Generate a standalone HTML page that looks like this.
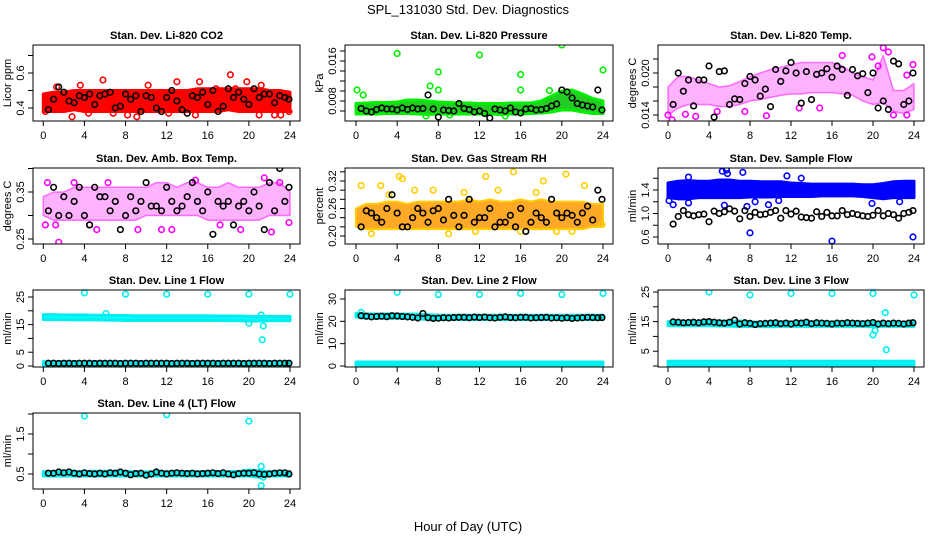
<!DOCTYPE html>
<html><head><meta charset="utf-8"><style>
html,body{margin:0;padding:0;background:#fff;}
svg{display:block;font-family:"Liberation Sans",Arial,sans-serif;}
</style></head>
<body>
<svg id="chart" width="936" height="540" viewBox="0 0 936 540">
<text x="468" y="14" text-anchor="middle" font-size="13">SPL_131030  Std. Dev. Diagnostics</text>
<text x="468" y="531" text-anchor="middle" font-size="13">Hour of Day (UTC)</text>
</svg>
<script>
// ---- data ----
const hoursTicks = [0,4,8,12,16,20,24];
const bandHours = [0,1,2,3,4,5,6,7,8,9,10,11,12,13,14,15,16,17,18,19,20,21,22,23,24];
const blackX = [0.5,1,1.5,2,2.5,3,3.5,4,4.5,5,5.5,6,6.5,7,7.5,8,8.5,9,9.5,10,10.5,11,11.5,12,12.5,13,13.5,14,14.5,15,15.5,16,16.5,17,17.5,18,18.5,19,19.5,20,20.5,21,21.5,22,22.5,23,23.5,23.9];

// Panel 1 CO2
const p1Lo = [0.38,0.38,0.38,0.39,0.38,0.38,0.38,0.38,0.38,0.38,0.38,0.38,0.38,0.38,0.38,0.38,0.38,0.38,0.39,0.38,0.38,0.38,0.38,0.38,0.38];
const p1Hi = [0.48,0.49,0.49,0.50,0.50,0.50,0.50,0.50,0.50,0.50,0.50,0.50,0.50,0.50,0.50,0.51,0.51,0.51,0.51,0.51,0.51,0.51,0.50,0.50,0.49];
const p1OutX = [15.8,18.2,5.8,13,15.2,19.8,10.2,21.2,3.6,2.8,9.1,14.8,1.3,8.2,21,22.5,23.1,23.9,0.2,4.4,18.7,16.8,12.2,6.8];
const p1OutY = [0.80,0.59,0.56,0.55,0.55,0.55,0.53,0.53,0.53,0.35,0.35,0.36,0.52,0.36,0.36,0.36,0.36,0.38,0.38,0.37,0.51,0.51,0.37,0.37];
const p1Black = [0.39,0.45,0.52,0.49,0.44,0.43,0.47,0.46,0.48,0.42,0.47,0.48,0.49,0.40,0.41,0.48,0.45,0.47,0.38,0.47,0.46,0.40,0.38,0.46,0.50,0.44,0.39,0.37,0.47,0.46,0.49,0.42,0.50,0.38,0.41,0.51,0.46,0.49,0.45,0.42,0.51,0.46,0.48,0.48,0.43,0.47,0.46,0.45];

// Panel 2 Pressure
const p2Lo = [0.0054,0.0054,0.0054,0.0055,0.0055,0.0055,0.0054,0.0053,0.0054,0.0054,0.0054,0.0054,0.0054,0.0054,0.0053,0.0054,0.0054,0.0055,0.0056,0.0058,0.0062,0.0062,0.0058,0.0055,0.0055];
const p2Hi = [0.0075,0.0076,0.0077,0.0077,0.0078,0.0082,0.0082,0.0080,0.0078,0.0077,0.0076,0.0076,0.0075,0.0075,0.0075,0.0076,0.0076,0.0076,0.0080,0.0090,0.0100,0.0102,0.0094,0.0085,0.0080];
const p2OutX = [4,12,20,24,8,16,7.2,0.1,8,16,18.8,0.7,6.8,14.5,9.1];
const p2OutY = [0.0175,0.0172,0.0192,0.0142,0.0138,0.0133,0.0110,0.0102,0.0102,0.0102,0.0101,0.0092,0.0050,0.0050,0.0052];
const p2Black = [0.0065,0.0060,0.0058,0.0063,0.0066,0.0064,0.0064,0.0062,0.0066,0.0063,0.0066,0.0064,0.0065,0.0092,0.0064,0.0048,0.0062,0.0061,0.0060,0.0075,0.0065,0.0063,0.0058,0.0060,0.0055,0.0046,0.0064,0.0062,0.0060,0.0066,0.0058,0.0056,0.0064,0.0065,0.0062,0.0063,0.0065,0.0070,0.0074,0.0102,0.0098,0.0086,0.0075,0.0072,0.0070,0.0068,0.0102,0.0062];

// Panel 3 Li-820 Temp
const p3Lo = [0.0140,0.0150,0.0155,0.0155,0.0155,0.0152,0.0152,0.0155,0.0160,0.0162,0.0165,0.0168,0.0170,0.0170,0.0172,0.0172,0.0172,0.0170,0.0168,0.0160,0.0155,0.0158,0.0145,0.0142,0.0148];
const p3Hi = [0.0180,0.0195,0.0195,0.0190,0.0185,0.0180,0.0182,0.0188,0.0195,0.0200,0.0205,0.0208,0.0212,0.0215,0.0215,0.0215,0.0215,0.0210,0.0200,0.0195,0.0190,0.0225,0.0175,0.0175,0.0185];
const p3OutX = [0,0.4,2.7,9.6,17,19.9,21,21.5,23.9,23.3,22,23.3,1.7,7.5,12.8,20.5,4.8,14.8];
const p3OutY = [0.0140,0.0133,0.0138,0.0139,0.0225,0.0223,0.0236,0.0230,0.0212,0.0197,0.0140,0.0140,0.0141,0.0145,0.0150,0.0210,0.0145,0.0150];
const p3Black = [0.0155,0.0200,0.0174,0.0190,0.0153,0.0190,0.0190,0.0210,0.0137,0.0202,0.0203,0.0155,0.0163,0.0162,0.0185,0.0195,0.0190,0.0167,0.0177,0.0152,0.0205,0.0188,0.0203,0.0215,0.0200,0.0157,0.0202,0.0162,0.0198,0.0200,0.0206,0.0194,0.0210,0.0205,0.0168,0.0205,0.0196,0.0199,0.0172,0.0200,0.0150,0.0160,0.0148,0.0217,0.0213,0.0155,0.0160,0.0200];

// Panel 4 Amb Box Temp
const p4Lo = [0.30,0.29,0.29,0.29,0.29,0.29,0.29,0.29,0.29,0.29,0.30,0.30,0.30,0.30,0.30,0.30,0.29,0.29,0.29,0.29,0.29,0.29,0.30,0.30,0.30];
const p4Hi = [0.34,0.35,0.35,0.36,0.36,0.36,0.36,0.36,0.36,0.36,0.36,0.37,0.37,0.36,0.37,0.37,0.36,0.36,0.37,0.36,0.36,0.36,0.37,0.37,0.35];
const p4OutX = [1.5,0.4,3,14.8,23,21.5,0.2,1.2,4.5,5.2,9.2,11.5,22.2,23.9,19.2,6.3,17.2,12.5];
const p4OutY = [0.243,0.37,0.37,0.375,0.37,0.38,0.28,0.28,0.28,0.27,0.27,0.27,0.265,0.285,0.27,0.37,0.28,0.27];
const p4Black = [0.31,0.36,0.30,0.34,0.30,0.33,0.36,0.30,0.28,0.36,0.34,0.34,0.31,0.33,0.27,0.30,0.34,0.31,0.33,0.37,0.32,0.32,0.31,0.36,0.33,0.31,0.32,0.34,0.37,0.33,0.31,0.35,0.26,0.33,0.32,0.33,0.28,0.32,0.33,0.31,0.35,0.32,0.27,0.37,0.31,0.40,0.33,0.36];

// Panel 5 Gas Stream RH
const p5Lo = [0.22,0.215,0.215,0.215,0.215,0.215,0.215,0.215,0.215,0.215,0.215,0.215,0.215,0.215,0.215,0.215,0.215,0.215,0.215,0.215,0.215,0.215,0.215,0.22,0.22];
const p5Hi = [0.26,0.27,0.27,0.275,0.275,0.27,0.275,0.275,0.275,0.275,0.275,0.28,0.275,0.28,0.275,0.275,0.28,0.275,0.28,0.275,0.275,0.275,0.275,0.27,0.27];
const p5OutX = [0.5,2.4,4.2,4.5,7.5,12.6,15.3,18.2,20.4,22.2,5.7,1.5,9.0,11.6,19.5,16,21,23.9,3.2,10.5,13.8,17.5];
const p5OutY = [0.31,0.31,0.33,0.325,0.30,0.33,0.34,0.32,0.335,0.31,0.30,0.205,0.205,0.21,0.21,0.21,0.21,0.225,0.29,0.295,0.30,0.295];
const p5Black = [0.22,0.255,0.25,0.24,0.23,0.26,0.29,0.25,0.22,0.22,0.24,0.26,0.25,0.23,0.255,0.26,0.235,0.28,0.245,0.22,0.245,0.28,0.23,0.24,0.24,0.26,0.22,0.23,0.23,0.245,0.22,0.26,0.21,0.23,0.25,0.24,0.23,0.28,0.25,0.24,0.25,0.245,0.23,0.25,0.265,0.235,0.30,0.28];

// Panel 6 Sample Flow
const p6Lo = [1.27,1.25,1.25,1.27,1.27,1.27,1.27,1.27,1.28,1.28,1.28,1.29,1.29,1.29,1.29,1.30,1.30,1.30,1.30,1.29,1.27,1.25,1.27,1.27,1.27];
const p6Hi = [1.52,1.55,1.56,1.55,1.55,1.57,1.57,1.55,1.55,1.54,1.54,1.54,1.52,1.51,1.50,1.50,1.50,1.50,1.50,1.49,1.49,1.51,1.54,1.55,1.55];
const p6OutX = [5.3,5.7,5.8,7.3,11.6,2,13,0.1,0.5,2,5.5,7.7,8,16,23.9,8.5,10.8,19.9,22.6,9.8];
const p6OutY = [1.72,1.74,1.68,1.70,1.64,1.62,1.60,1.22,1.15,1.18,1.14,1.12,0.67,0.53,0.60,1.20,1.22,1.17,1.20,1.15];
const p6Black = [0.82,0.95,1.05,0.98,0.96,0.98,0.99,0.86,1.04,1.0,1.03,1.08,1.04,0.91,1.05,0.95,1.02,0.98,0.99,1.02,1.05,0.92,1.05,0.99,1.04,0.94,0.93,0.92,1.03,0.95,1.02,0.96,0.96,1.05,0.98,1.0,0.98,0.96,0.95,0.97,1.05,0.96,1.0,0.98,0.92,1.0,1.02,1.05];

// Panel 7 Line 1 Flow
const p7Lo = [16.8,16.8,16.8,16.7,16.7,16.7,16.6,16.6,16.5,16.5,16.5,16.5,16.5,16.5,16.5,16.5,16.5,16.5,16.4,16.4,16.3,16.3,16.4,16.4,16.4];
const p7Hi = [18.6,18.6,18.5,18.5,18.5,18.4,18.4,18.3,18.3,18.2,18.2,18.2,18.2,18.2,18.2,18.2,18.2,18.1,18.1,18.1,18.0,18.0,18.0,18.0,18.0];
const p7Lo2 = [0.3,0.3,0.3,0.3,0.3,0.3,0.3,0.3,0.3,0.3,0.3,0.3,0.3,0.3,0.3,0.3,0.3,0.3,0.3,0.3,0.3,0.3,0.3,0.3,0.3];
const p7Hi2 = [1.6,1.6,1.6,1.6,1.6,1.6,1.6,1.6,1.6,1.6,1.6,1.6,1.6,1.6,1.6,1.6,1.6,1.6,1.6,1.6,1.6,1.6,1.6,1.6,1.6];
const p7OutX = [4,8,12,16,20,24,6.1,21.2,21.4,21.3,20];
const p7OutY = [26.5,26,26,26,26,26,19,18.5,14.5,9.5,15.5];
const p7Black = [1.0,1.0,0.9,1.0,1.0,0.9,1.0,1.0,1.0,0.9,1.0,1.0,1.0,1.0,0.9,1.0,1.0,1.0,0.9,1.0,1.0,1.0,1.0,1.0,0.9,1.0,1.0,1.0,0.9,1.0,1.0,1.0,1.0,0.9,1.0,1.0,1.0,1.0,0.9,1.0,1.0,1.0,1.0,0.9,1.0,1.0,1.0,1.0];

// Panel 8 Line 2 Flow
const p8Lo = [22.0,21.4,21.4,21.4,21.3,21.3,21.2,20.8,20.8,20.8,20.8,20.8,20.8,20.8,20.8,20.8,20.8,20.8,20.8,20.8,20.8,20.8,20.8,20.8,20.8];
const p8Hi = [23.5,23.3,23.3,23.3,23.2,23.2,23.2,23.0,22.7,22.7,22.7,22.7,22.7,22.7,22.7,22.7,22.7,22.7,22.7,22.7,22.7,22.7,22.7,22.7,22.7];
const p8Lo2 = [0.4,0.4,0.4,0.4,0.4,0.4,0.4,0.4,0.4,0.4,0.4,0.4,0.4,0.4,0.4,0.4,0.4,0.4,0.4,0.4,0.4,0.4,0.4,0.4,0.4];
const p8Hi2 = [1.8,1.8,1.8,1.8,1.8,1.8,1.8,1.8,1.8,1.8,1.8,1.8,1.8,1.8,1.8,1.8,1.8,1.8,1.8,1.8,1.8,1.8,1.8,1.8,1.8];
const p8OutX = [4,8,12,16,20,24,0.5];
const p8OutY = [33,32,32,32.5,32,32.5,24];
const p8Black = [22.5,22.3,22.0,22.2,22.3,22.1,22.5,22.4,22.2,22.0,21.8,21.5,23.5,21.6,21.3,21.4,21.6,21.5,21.7,21.8,21.8,21.6,21.9,21.7,21.9,21.6,21.5,21.8,22.0,21.7,21.6,21.8,21.8,21.5,21.6,21.7,21.8,21.5,21.6,21.4,21.6,21.3,21.5,21.6,21.8,21.7,21.6,21.7];

// Panel 9 Line 3 Flow
const p9Lo = [13.6,13.6,13.6,13.6,13.6,13.5,13.5,13.3,13.4,13.3,13.3,13.4,13.4,13.4,13.4,13.4,13.4,13.4,13.4,13.4,13.3,13.4,13.4,13.4,13.4];
const p9Hi = [15.0,15.0,15.0,15.0,15.1,15.1,15.1,15.2,14.9,14.8,14.8,14.8,14.9,14.9,14.9,14.9,14.9,14.9,14.9,14.9,14.9,14.8,14.8,14.8,14.8];
const p9Lo2 = [0.3,0.3,0.3,0.3,0.3,0.3,0.3,0.3,0.3,0.3,0.3,0.3,0.3,0.3,0.3,0.3,0.3,0.3,0.3,0.3,0.3,0.3,0.3,0.3,0.3];
const p9Hi2 = [1.6,1.6,1.6,1.6,1.6,1.6,1.6,1.6,1.6,1.6,1.6,1.6,1.6,1.6,1.6,1.6,1.6,1.6,1.6,1.6,1.6,1.6,1.6,1.6,1.6];
const p9OutX = [4,8,12,16,20,24,20,21.2,21.3,20.2];
const p9OutY = [25,24,24.5,24.5,24.5,24,10.5,18,5.5,12];
const p9Black = [14.9,14.8,14.6,14.7,14.8,14.6,14.9,15.0,14.8,14.6,14.5,14.8,15.5,14.2,14.6,14.4,14.0,14.3,14.4,14.5,14.6,14.3,14.5,14.2,14.6,14.5,14.8,14.3,14.6,14.5,14.4,14.2,14.5,14.4,14.6,14.5,14.4,14.3,14.5,14.7,14.2,14.5,14.3,14.5,14.4,14.2,14.5,14.6];

// Panel 10 Line 4 (LT) Flow
const p10Lo = [0.45,0.45,0.45,0.45,0.45,0.45,0.45,0.45,0.45,0.45,0.45,0.45,0.45,0.45,0.45,0.45,0.45,0.45,0.45,0.45,0.45,0.42,0.45,0.45,0.45];
const p10Hi = [0.56,0.56,0.57,0.57,0.56,0.57,0.57,0.57,0.56,0.56,0.55,0.56,0.56,0.56,0.56,0.56,0.56,0.56,0.56,0.56,0.60,0.58,0.56,0.56,0.56];
const p10OutX = [4,12,20,21.2,21.2,21.4];
const p10OutY = [1.95,1.98,1.82,0.69,0.21,0.42];
const p10Black = [0.52,0.52,0.55,0.53,0.55,0.52,0.50,0.53,0.51,0.50,0.52,0.50,0.53,0.52,0.55,0.52,0.48,0.51,0.52,0.47,0.50,0.55,0.52,0.50,0.52,0.53,0.52,0.51,0.52,0.50,0.51,0.52,0.53,0.51,0.53,0.50,0.48,0.51,0.52,0.52,0.53,0.50,0.49,0.50,0.52,0.53,0.53,0.50];

// ---- layout / scales (not data) ----
const cols = [{l:33,r:300,x0:43.3,x24:290},{l:345,r:613,x0:356,x24:603},{l:658,r:924,x0:668,x24:914}];
const rows = [{t:45,b:121},{t:168,b:244},{t:290,b:367},{t:413,b:489}];
const panels = [
 {name:'co2',title:'Stan. Dev. Li-820 CO2',ylab:'Licor ppm',c:0,r:0,v0:0.4,y0:108,v1:0.6,y1:73,ticks:[0.4,0.5,0.6,0.7],labels:[0.4,0.6],fmt:1,color:'#ff0000',fill:'#ff0000',fo:1,sw:3,lo:p1Lo,hi:p1Hi,ox:p1OutX,oy:p1OutY,bk:p1Black},
 {name:'pressure',title:'Stan. Dev. Li-820 Pressure',ylab:'kPa',c:1,r:0,v0:0.006,y0:111,v1:0.016,y1:61,ticks:[0.006,0.008,0.010,0.012,0.014,0.016,0.018],labels:[0.008,0.016],fmt:3,color:'#00ee00',fill:'#22cc22',fo:1,sw:3,lo:p2Lo,hi:p2Hi,ox:p2OutX,oy:p2OutY,bk:p2Black},
 {name:'li820-temp',title:'Stan. Dev. Li-820 Temp.',ylab:'degrees C',c:2,r:0,v0:0.014,y0:115,v1:0.020,y1:73,ticks:[0.014,0.016,0.018,0.020,0.022],labels:[0.014,0.020],fmt:3,color:'#ff00ff',fill:'#ff00ff',fo:0.3,sw:1.5,lo:p3Lo,hi:p3Hi,ox:p3OutX,oy:p3OutY,bk:p3Black},
 {name:'amb-box-temp',title:'Stan. Dev. Amb. Box Temp.',ylab:'degrees C',c:0,r:1,v0:0.25,y0:239,v1:0.35,y1:192,ticks:[0.25,0.30,0.35,0.40],labels:[0.25,0.35],fmt:2,color:'#ff00ff',fill:'#ff00ff',fo:0.3,sw:1.5,lo:p4Lo,hi:p4Hi,ox:p4OutX,oy:p4OutY,bk:p4Black},
 {name:'gas-rh',title:'Stan. Dev. Gas Stream RH',ylab:'percent',c:1,r:1,v0:0.20,y0:236,v1:0.32,y1:181,ticks:[0.20,0.22,0.24,0.26,0.28,0.30,0.32,0.34],labels:[0.20,0.26,0.32],fmt:2,color:'#ffcc00',fill:'#ff9a00',fo:0.85,sw:2,lo:p5Lo,hi:p5Hi,ox:p5OutX,oy:p5OutY,bk:p5Black},
 {name:'sample-flow',title:'Stan. Dev. Sample Flow',ylab:'ml/min',c:2,r:1,v0:0.6,y0:237,v1:1.4,y1:190,ticks:[0.6,0.8,1.0,1.2,1.4,1.6],labels:[0.6,1.0,1.4],fmt:1,color:'#0000ff',fill:'#0000ff',fo:1,sw:3,lo:p6Lo,hi:p6Hi,ox:p6OutX,oy:p6OutY,bk:p6Black},
 {name:'line1-flow',title:'Stan. Dev. Line 1 Flow',ylab:'ml/min',c:0,r:2,v0:0,y0:366,v1:25,y1:297,ticks:[0,5,10,15,20,25],labels:[0,5,15,25],fmt:0,color:'#00eeee',fill:'#00ffff',fo:1,sw:3,lo:p7Lo,hi:p7Hi,lo2:p7Lo2,hi2:p7Hi2,ox:p7OutX,oy:p7OutY,bk:p7Black},
 {name:'line2-flow',title:'Stan. Dev. Line 2 Flow',ylab:'ml/min',c:1,r:2,v0:0,y0:366,v1:30,y1:299,ticks:[0,10,20,30],labels:[0,10,20,30],fmt:0,color:'#00eeee',fill:'#00ffff',fo:1,sw:3,lo:p8Lo,hi:p8Hi,lo2:p8Lo2,hi2:p8Hi2,ox:p8OutX,oy:p8OutY,bk:p8Black},
 {name:'line3-flow',title:'Stan. Dev. Line 3 Flow',ylab:'ml/min',c:2,r:2,v0:0,y0:366,v1:25,y1:292,ticks:[0,5,10,15,20,25],labels:[5,15,25],fmt:0,color:'#00eeee',fill:'#00ffff',fo:1,sw:3,lo:p9Lo,hi:p9Hi,lo2:p9Lo2,hi2:p9Hi2,ox:p9OutX,oy:p9OutY,bk:p9Black},
 {name:'line4-flow',title:'Stan. Dev. Line 4 (LT) Flow',ylab:'ml/min',c:0,r:3,v0:0.5,y0:474,v1:1.5,y1:434,ticks:[0.5,1.0,1.5,2.0],labels:[0.5,1.5],fmt:1,color:'#00eeee',fill:'#00ffff',fo:1,sw:3,lo:p10Lo,hi:p10Hi,ox:p10OutX,oy:p10OutY,bk:p10Black}
];
const NS='http://www.w3.org/2000/svg';
const svg=document.getElementById('chart');
function mk(tag,attrs,parent){const e=document.createElementNS(NS,tag);for(const k in attrs)e.setAttribute(k,attrs[k]);(parent||svg).appendChild(e);return e;}

panels.forEach(p=>{
  const C=cols[p.c],R=rows[p.r];
  const xs=h=>C.x0+(C.x24-C.x0)*h/24;
  const ys=v=>p.y0+(p.y1-p.y0)*(v-p.v0)/(p.v1-p.v0);
  const g=mk('g',{});
  
  
  const clipId='clip-'+p.name;
  const cp=mk('clipPath',{id:clipId},g);
  mk('rect',{x:C.l,y:R.t,width:C.r-C.l,height:R.b-R.t},cp);
  const t=mk('text',{x:(C.l+C.r)/2,y:R.t-6,'text-anchor':'middle','font-size':11,'font-weight':'bold'},g);
  t.textContent=p.title;
  
  
  const plot=mk('g',{'clip-path':'url(#'+clipId+')'},g);
  
  
  function band(lo,hi,nm){
    let pts=bandHours.map((h,i)=>xs(h)+','+ys(hi[i]));
    pts=pts.concat(bandHours.slice().reverse().map((h,j)=>{const i=bandHours.length-1-j;return xs(h)+','+ys(lo[i]);}));
    const pg=mk('polygon',{points:pts.join(' '),fill:p.fill,'fill-opacity':p.fo,stroke:p.color,'stroke-width':p.sw,'stroke-opacity':Math.min(1,p.fo+0.2),'stroke-linejoin':'round'},plot);
    
    
  }
  band(p.lo,p.hi,p.name+'-cloud');
  if(p.lo2) band(p.lo2,p.hi2,p.name+'-low-cloud');
  p.ox.forEach((h,i)=>{
    const c=mk('circle',{cx:xs(h),cy:ys(p.oy[i]),r:2.8,fill:'none',stroke:p.color,'stroke-width':1.6},plot);
    
    
  });
  p.bk.forEach((v,i)=>{
    const c=mk('circle',{cx:xs(blackX[i]),cy:ys(v),r:2.8,fill:'none',stroke:'#000','stroke-width':1.6},plot);
    
    
  });
  const box=mk('rect',{x:C.l,y:R.t,width:C.r-C.l,height:R.b-R.t,fill:'none',stroke:'#000','stroke-width':1},g);
  
  
  hoursTicks.forEach(h=>{
    mk('line',{x1:xs(h),x2:xs(h),y1:R.b,y2:R.b+5,stroke:'#000'},g);
    const lt=mk('text',{x:xs(h),y:R.b+18,'text-anchor':'middle','font-size':11},g);
    lt.textContent=h;
    
    
  });
  mk('line',{x1:xs(0),x2:xs(24),y1:R.b,y2:R.b,stroke:'#000'},g);
  p.ticks.forEach(v=>{const y=ys(v);if(y<R.t-1||y>R.b+1)return;mk('line',{x1:C.l-5,x2:C.l,y1:y,y2:y,stroke:'#000'},g);});
  p.labels.forEach(v=>{
    const y=ys(v);
    const lt=mk('text',{x:0,y:0,'text-anchor':'middle','font-size':11,transform:'translate('+(C.l-9)+','+y+') rotate(-90)'},g);
    lt.textContent=v.toFixed(p.fmt);
    
    
  });
  const yl=mk('text',{x:0,y:0,'text-anchor':'middle','font-size':11,transform:'translate('+(C.l-22)+','+((R.t+R.b)/2)+') rotate(-90)'},g);
  yl.textContent=p.ylab;
  
  
});
</script>
</body></html>
